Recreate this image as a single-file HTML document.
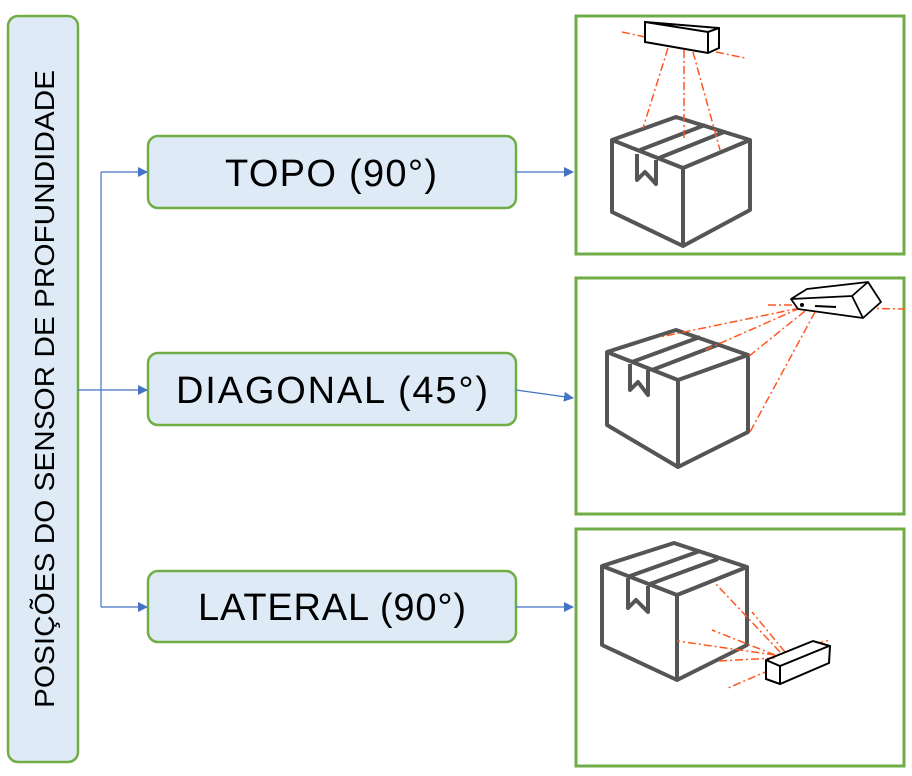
<!DOCTYPE html>
<html><head><meta charset="utf-8"><style>
body{margin:0;background:#fff;width:912px;height:776px;overflow:hidden}
svg{display:block}
text{font-family:"Liberation Sans",sans-serif}
</style></head><body>
<svg width="912" height="776" viewBox="0 0 912 776" xmlns="http://www.w3.org/2000/svg">
<defs><marker id="a" markerWidth="10" markerHeight="10" refX="9" refY="5" orient="auto" markerUnits="userSpaceOnUse"><path d="M0,0 L10,5 L0,10 z" fill="#4472C4"/></marker></defs>
<rect x="8" y="16" width="70" height="746" rx="10" fill="#DEEBF7" stroke="#70AD47" stroke-width="2.5"/>
<text transform="translate(54,389) rotate(-90)" text-anchor="middle" font-size="28" textLength="638" lengthAdjust="spacingAndGlyphs" fill="#000">POSIÇÕES DO SENSOR DE PROFUNDIDADE</text>
<g fill="#DEEBF7" stroke="#70AD47" stroke-width="2.5">
<rect x="148" y="136" width="368" height="72" rx="10"/>
<rect x="148" y="353" width="368" height="72" rx="10"/>
<rect x="148" y="571" width="368" height="71" rx="10"/>
</g>
<g font-size="38" text-anchor="middle" fill="#000" lengthAdjust="spacingAndGlyphs">
<text x="331" y="186" textLength="212">TOPO (90°)</text>
<text x="332" y="403" textLength="312">DIAGONAL (45°)</text>
<text x="332" y="620" textLength="268">LATERAL (90°)</text>
</g>
<g stroke="#4472C4" stroke-width="1.2" fill="none">
<path d="M78,390 H101 M101,172 V607"/>
<path d="M101,172 H147" marker-end="url(#a)"/>
<path d="M101,390 H147" marker-end="url(#a)"/>
<path d="M101,607 H147" marker-end="url(#a)"/>
<path d="M516,172 H573" marker-end="url(#a)"/>
<path d="M516,390 L573,398" marker-end="url(#a)"/>
<path d="M516,607 H573" marker-end="url(#a)"/>
</g>
<g fill="#fff" stroke="#70AD47" stroke-width="3">
<rect x="576" y="16" width="328" height="238"/>
<rect x="576" y="278" width="328" height="236"/>
<rect x="576" y="529" width="328" height="237"/>
</g>
<!-- panel 1 -->
<g stroke="#555" stroke-width="4" fill="none" stroke-linejoin="round">
<path d="M612,140 L676,117 L750,140 L683,168 Z M683,168 V246 L612,212 V140 M750,140 V210 L683,246"/>
<path d="M640,150 L705,125 M659,158 L724,132 M637,154 V180 L645,172 L656,184 V160"/>
</g>
<g stroke="#FF5722" stroke-width="1.5" stroke-dasharray="8,3,2,3" fill="none">
<path d="M668,48 L643,128 M684,50 L684,140 M693,52 L720,150 M622,32 L645,37 M716,52 L745,58"/>
</g>
<path d="M645,22 L719,28 L719,48 L708,53 L645,42 Z M708,32 V53 M645,22 L708,32 L719,28" fill="#fff" stroke="#000" stroke-width="2"/>
<!-- panel 2 -->
<g stroke="#555" stroke-width="4" fill="none" stroke-linejoin="round">
<path d="M607,352 L676,330 L748,355 L678,380 Z M678,380 V467 L607,425 V352 M748,355 V432 L678,467"/>
<path d="M632,362 L700,337 M652,370 L720,344 M630,364 V390 L638,382 L648,395 V370"/>
</g>
<g stroke="#FF5722" stroke-width="1.5" stroke-dasharray="8,3,2,3" fill="none">
<path d="M800,308 L660,337 M800,308 L705,350 M805,311 L748,357 M815,312 L750,432 M768,305 L800,305 M850,308 L905,309"/>
</g>
<path d="M791,299 L807,289 L868,282 L881,302 L863,318 L798,309 Z M791,299 L852,296 L863,318 M852,296 L868,282" fill="#fff" stroke="#000" stroke-width="1.8" stroke-linejoin="round"/>
<circle cx="802" cy="305" r="2" fill="#000"/>
<path d="M815,306 L836,307" stroke="#000" stroke-width="2"/>
<!-- panel 3 -->
<g stroke="#555" stroke-width="4" fill="none" stroke-linejoin="round">
<path d="M602,566 L674,543 L747,567 L677,595 Z M677,595 V680 L602,645 V566 M747,567 V645 L677,680"/>
<path d="M630,576 L700,551 M650,584 L718,559 M628,578 V608 L636,600 L648,612 V586"/>
</g>
<g stroke="#FF5722" stroke-width="1.5" stroke-dasharray="8,3,2,3" fill="none">
<path d="M780,652 L714,582 M785,652 L752,612 M775,655 L712,630 M775,655 L677,641 M775,658 L718,661 M770,670 L728,688 M800,648 L830,640"/>
</g>
<path d="M766,660 L813,641 L830,646 L829,663 L780,684 L766,679 Z M766,660 L780,666 L829,646 M780,666 V684" fill="#fff" stroke="#000" stroke-width="2"/>
</svg>
</body></html>
